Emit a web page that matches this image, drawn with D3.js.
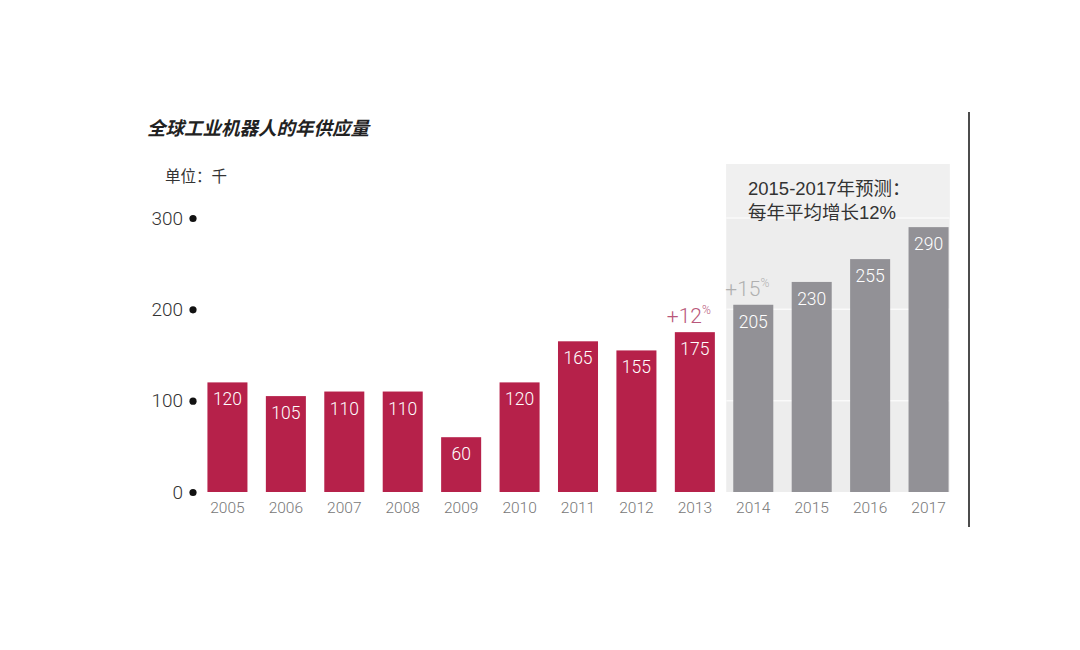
<!DOCTYPE html>
<html><head><meta charset="utf-8">
<script src="https://cdn.jsdelivr.net/npm/d3@7"></script>
<style>body{margin:0;background:#fff;}</style>
</head><body>
<script>
const years = ["2005","2006","2007","2008","2009","2010","2011","2012","2013","2014","2015","2016","2017"];
const values = [120,105,110,110,60,120,165,155,175,205,230,255,290];
const forecastYears = ["2014","2015","2016","2017"];
const yTicks = [0,100,200,300];
const title = "全球工业机器人的年供应量";
const unitLabel = "单位：千";
const panelLines = ["2015-2017年预测：","每年平均增长12%"];
const growthNotes = [{year:"2013", text:"+12"},{year:"2014", text:"+15"}];

const W=1080,H=650;
const svg=d3.select("body").append("svg").attr("width",W).attr("height",H);
const font='"Helvetica Neue", Roboto, "Liberation Sans", sans-serif';
const cjk='"Noto Sans CJK SC", sans-serif';
const mixed='"Liberation Sans", "Noto Sans CJK SC", sans-serif';

const x=d3.scaleBand().domain(years).range([197.5,958.5]).paddingInner(0.315).paddingOuter(0.17);
const y=d3.scaleLinear().domain([0,300]).range([492,218]);

const red="#b6214a", gray="#929196", panel="#ededed";

// forecast panel
const px0=x("2014")-7, px1=x("2017")+x.bandwidth()+1;
svg.append("rect").attr("x",px0).attr("y",164).attr("width",px1-px0).attr("height",492-164).attr("fill",panel);
svg.append("rect").attr("x",px0).attr("y",164).attr("width",px1-px0).attr("height",y(300)-164).attr("fill","#f0f0f0");
svg.selectAll("line.grid").data([100,200,300]).enter().append("line")
  .attr("x1",px0).attr("x2",px1).attr("y1",d=>y(d)).attr("y2",d=>y(d))
  .attr("stroke","#fafafa").attr("stroke-width",1.5);

// bars
svg.selectAll("rect.bar").data(years).enter().append("rect")
  .attr("x",d=>x(d)).attr("width",x.bandwidth())
  .attr("y",(d,i)=>y(values[i])).attr("height",(d,i)=>y(0)-y(values[i]))
  .attr("fill",d=>forecastYears.includes(d)?gray:red);

// value labels
svg.selectAll("text.val").data(years).enter().append("text")
  .attr("x",d=>x(d)+x.bandwidth()/2).attr("y",(d,i)=>y(values[i])+23)
  .attr("text-anchor","middle").attr("fill","#fff").attr("font-family",font)
  .attr("font-weight",300).attr("font-size",17.5).text((d,i)=>values[i]);

// year labels
svg.selectAll("text.yr").data(years).enter().append("text")
  .attr("x",d=>x(d)+x.bandwidth()/2).attr("y",513)
  .attr("text-anchor","middle").attr("fill","#777").attr("font-family",font)
  .attr("font-weight",300).attr("font-size",15.5).text(d=>d);

// y axis ticks with dots
const ya=svg.append("g");
yTicks.forEach(t=>{
  ya.append("text").attr("x",183).attr("y",y(t)+6.5).attr("text-anchor","end")
    .attr("fill","#333").attr("font-family",font).attr("font-weight",300).attr("font-size",19).text(t);
  ya.append("circle").attr("cx",193).attr("cy",y(t)+0.5).attr("r",3.6).attr("fill","#111");
});

// growth notes
growthNotes.forEach(n=>{
  const i=years.indexOf(n.year);
  const col=n.year==="2013"?"#b9577a":"#b0b0b0";
  const t=svg.append("text").attr("x",x(n.year)-8).attr("y",y(values[i])-9)
    .attr("fill",col).attr("font-family",font).attr("font-weight",300).attr("font-size",21);
  t.append("tspan").text(n.text);
  t.append("tspan").attr("font-size",12).attr("dy",-9).text("%");
});

// panel text
panelLines.forEach((l,i)=>{
  svg.append("text").attr("x",748).attr("y",195+i*24).attr("fill","#333")
    .attr("font-family",mixed).attr("font-size",18.5).text(l);
});

// title
svg.append("text").attr("x",147).attr("y",135).attr("fill","#222")
  .attr("font-family",cjk).attr("font-weight",700).attr("font-style","italic")
  .attr("font-size",18.5).text(title);
svg.append("text").attr("x",165).attr("y",182).attr("fill","#333")
  .attr("font-family",cjk).attr("font-size",15.5).text(unitLabel);

// right rule
svg.append("line").attr("x1",969).attr("x2",969).attr("y1",112).attr("y2",527)
  .attr("stroke","#111").attr("stroke-width",1.5);
</script>
</body></html>
